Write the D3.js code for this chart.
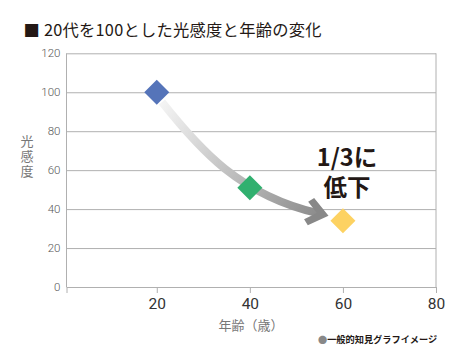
<!DOCTYPE html>
<html><head><meta charset="utf-8">
<script src="https://cdn.jsdelivr.net/npm/d3@7"></script>
<style>
body{margin:0;background:#fff;}
svg{display:block;}
</style></head>
<body><svg id="c" width="470" height="355"></svg>
<script>
const titleText = "■ 20代を100とした光感度と年齢の変化";
const ages = [20, 40, 60];
const sensitivity = [100, 51, 34];
const pointColors = ["#5574b9", "#31b06f", "#fdd262"];
const xTicks = [20, 40, 60, 80];
const yTicks = [0, 20, 40, 60, 80, 100, 120];
const xLabel = "年齢（歳）";
const yLabel = "光感度";
const noteLines = ["1/3に", "低下"];
const footnote = "一般的知見グラフイメージ";
// arrow annotation path in data coordinates (age, sensitivity)
const arrowPts = [[21.1, 95], [29.3, 70.3], [37.9, 47.2], [54.6, 37.9]];

const svg = d3.select("#c");
const x = d3.scaleLinear().domain([0.6, 80]).range([66.5, 436]);
const y = d3.scaleLinear().domain([0, 120]).range([287, 53.3]);
const jp = "'Noto Sans CJK JP','Noto Sans',sans-serif";

// title
svg.append("text").attr("x", 23.5).attr("y", 35.5)
  .attr("font-family", jp).attr("font-size", 16.3).attr("letter-spacing", 0.25).attr("fill", "#231815")
  .text(titleText);

// grid via y axis
const gy = svg.append("g").attr("transform", `translate(${x.range()[0]},0)`)
  .call(d3.axisLeft(y).tickValues(yTicks).tickSize(-(x.range()[1]-x.range()[0])).tickPadding(6));
gy.select(".domain").remove();
gy.selectAll(".tick line").attr("stroke", "#b0b0b0").attr("stroke-width", 1);
gy.selectAll(".tick text").attr("font-family", "Roboto, sans-serif").attr("font-weight", 300)
  .attr("font-size", 11.5).attr("fill", "#555");

// frame lines
svg.append("line").attr("x1", x.range()[0]).attr("x2", x.range()[0]).attr("y1", y(120)).attr("y2", y(0)).attr("stroke", "#b0b0b0");
svg.append("line").attr("x1", x.range()[1]).attr("x2", x.range()[1]).attr("y1", y(120)).attr("y2", y(0)).attr("stroke", "#b0b0b0");

// x axis
const gx = svg.append("g").attr("transform", `translate(0,${y(0)})`)
  .call(d3.axisBottom(x).tickValues(xTicks).tickSize(6).tickPadding(5));
gx.select(".domain").attr("stroke", "#b0b0b0");
gx.selectAll(".tick line").attr("stroke", "#b0b0b0");
gx.selectAll(".tick text").attr("font-family", "Roboto, sans-serif").attr("font-weight", 400)
  .attr("font-size", 15.5).attr("fill", "#333");

// axis titles
svg.append("text").attr("x", 251).attr("y", 330).attr("text-anchor", "middle")
  .attr("font-family", jp).attr("font-size", 13).attr("fill", "#777").text(xLabel);
svg.append("text").attr("x", 27).attr("y", 134.5)
  .style("writing-mode", "vertical-rl").style("text-orientation", "upright")
  .attr("letter-spacing", 2)
  .attr("font-family", jp).attr("font-size", 13).attr("fill", "#777").text(yLabel);

// arrow
const P = arrowPts.map(p => [x(p[0]), y(p[1])]);
const dx = P[3][0] - P[2][0], dy = P[3][1] - P[2][1];
const ang = Math.atan2(dy, dx);
const ux = Math.cos(ang), uy = Math.sin(ang);
const tip = [P[3][0] + 11 * ux, P[3][1] + 11 * uy];
const defs = svg.append("defs");
const grad = defs.append("linearGradient").attr("id", "ag").attr("gradientUnits", "userSpaceOnUse")
  .attr("x1", P[0][0]).attr("y1", P[0][1]).attr("x2", tip[0]).attr("y2", tip[1]);
grad.append("stop").attr("offset", 0).attr("stop-color", "#f4f4f4");
grad.append("stop").attr("offset", 0.5).attr("stop-color", "#bdbdbd");
grad.append("stop").attr("offset", 1).attr("stop-color", "#878787");
const pth = d3.path();
pth.moveTo(P[0][0], P[0][1]);
pth.bezierCurveTo(P[1][0], P[1][1], P[2][0], P[2][1], P[3][0], P[3][1]);
svg.append("path").attr("d", pth.toString()).attr("fill", "none")
  .attr("stroke", "url(#ag)").attr("stroke-width", 8);
const head = [[0, 0], [-18, -14], [-23, -9], [-12, 0], [-23, 9], [-18, 14]]
  .map(([a, b]) => [tip[0] + a * ux - b * uy, tip[1] + a * uy + b * ux]);
svg.append("path").attr("d", "M" + head.join("L") + "Z").attr("fill", "#888");

// diamonds
const sym = d3.symbol().type(d3.symbolSquare).size(313);
svg.append("g").selectAll("path").data(ages).join("path")
  .attr("d", sym)
  .attr("transform", (d, i) => `translate(${x(d)},${y(sensitivity[i])}) rotate(45)`)
  .attr("fill", (d, i) => pointColors[i]);

// annotation
const nt = svg.append("text").attr("text-anchor", "middle")
  .attr("font-family", jp).attr("font-weight", 700).attr("font-size", 23.5).attr("fill", "#231815");
nt.selectAll("tspan").data(noteLines).join("tspan")
  .attr("x", 347).attr("y", (d, i) => 166 + i * 29.5).text(d => d);

// footnote
const fn = svg.append("text").attr("x", 318).attr("y", 342.5)
  .attr("font-family", jp).attr("font-size", 9.2).attr("fill", "#231815");
fn.append("tspan").attr("fill", "#888").text("●");
fn.append("tspan").attr("font-weight", 700).text(footnote);
</script></body></html>
